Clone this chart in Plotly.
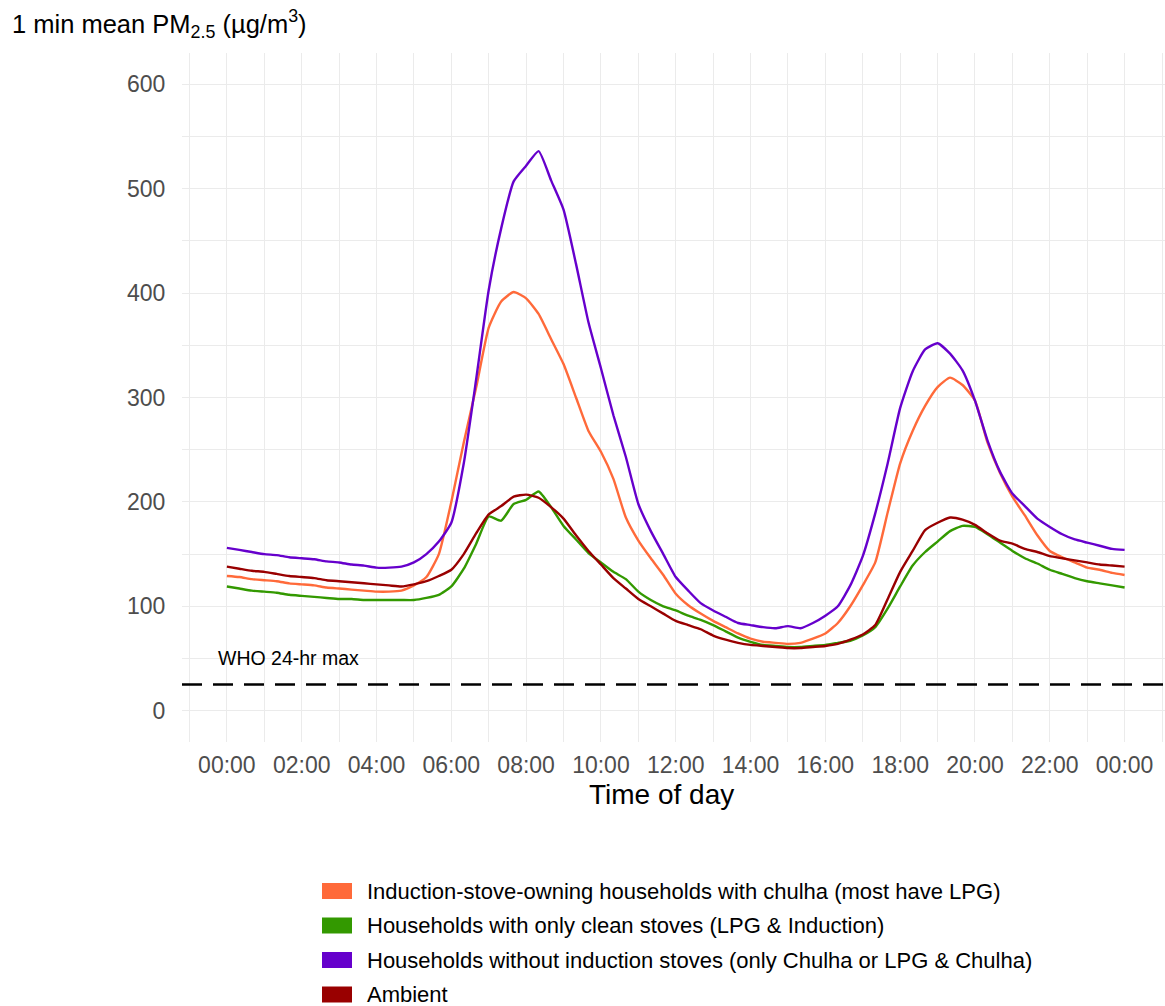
import plotly.graph_objects as go

# Time of day for each reading (24:00 closes the day)
TIMES = [
    "00:00", "00:20", "00:40", "01:00", "01:20", "01:40", "02:00", "02:20", "02:40",
    "03:00", "03:20", "03:40", "04:00", "04:20", "04:40", "05:00", "05:20", "05:40",
    "06:00", "06:20", "06:40", "07:00", "07:20", "07:40", "08:00", "08:20", "08:40",
    "09:00", "09:20", "09:40", "10:00", "10:20", "10:40", "11:00", "11:20", "11:40",
    "12:00", "12:20", "12:40", "13:00", "13:20", "13:40", "14:00", "14:20", "14:40",
    "15:00", "15:20", "15:40", "16:00", "16:20", "16:40", "17:00", "17:20", "17:40",
    "18:00", "18:20", "18:40", "19:00", "19:20", "19:40", "20:00", "20:20", "20:40",
    "21:00", "21:20", "21:40", "22:00", "22:20", "22:40", "23:00", "23:20", "23:40",
    "24:00",
]

# Mean PM2.5 (ug/m3) by household group
INDUCTION_WITH_CHULHA = [
    129, 128, 126, 125, 124, 122, 121, 120, 118, 117, 116, 115,
    114, 114, 115, 120, 128, 150, 200, 257, 310, 367, 392, 401,
    395, 380, 356, 332, 300, 268, 248, 222, 185, 163, 146, 130,
    112, 101, 93, 86, 80, 74, 69, 66, 65, 64, 65, 69,
    74, 84, 100, 120, 142, 190, 237, 268, 292, 310, 319, 312,
    297, 257, 228, 205, 187, 168, 153, 147, 142, 137, 135, 132,
    130,
]
CLEAN_STOVES_ONLY = [
    119, 117, 115, 114, 113, 111, 110, 109, 108, 107, 107, 106,
    106, 106, 106, 106, 108, 111, 119, 136, 160, 186, 182, 198,
    202, 210, 195, 177, 164, 151, 142, 133, 126, 114, 106, 100,
    96, 91, 87, 82, 76, 70, 66, 63, 62, 61, 61, 62,
    63, 65, 67, 72, 80, 98, 119, 139, 152, 162, 172, 177,
    176, 169, 161, 153, 146, 141, 135, 131, 127, 124, 122, 120,
    118,
]
NO_INDUCTION = [
    156, 154, 152, 150, 149, 147, 146, 145, 143, 142, 140, 139,
    137, 137, 138, 142, 150, 162, 180, 237, 318, 403, 462, 507,
    522, 536, 508, 480, 428, 372, 328, 283, 243, 198, 172, 150,
    128, 115, 103, 96, 90, 84, 82, 80, 79, 81, 79, 84,
    91, 100, 120, 148, 189, 237, 290, 325, 346, 352, 342, 326,
    297, 259, 229, 208, 196, 184, 176, 169, 164, 161, 158, 155,
    154,
]
AMBIENT = [
    138, 136, 134, 133, 131, 129, 128, 127, 125, 124, 123, 122,
    121, 120, 119, 121, 124, 129, 135, 150, 170, 188, 196, 205,
    207, 204, 195, 184, 168, 153, 140, 127, 117, 107, 100, 93,
    86, 82, 78, 72, 68, 65, 63, 62, 61, 60, 60, 61,
    62, 64, 68, 73, 82, 107, 133, 153, 173, 180, 185, 183,
    178, 170, 163, 160, 155, 152, 148, 146, 144, 142, 140, 139,
    138,
]

SERIES_NAMES = [
    "Induction-stove-owning households with chulha (most have LPG)",
    "Households with only clean stoves (LPG & Induction)",
    "Households without induction stoves (only Chulha or LPG & Chulha)",
    "Ambient",
]
SERIES_COLORS = ["#FF6A3A", "#339900", "#6600CC", "#990000"]

WHO_24HR_MAX = 25

TICK_HOURS = [0, 2, 4, 6, 8, 10, 12, 14, 16, 18, 20, 22, 24]
TICK_LABELS = ["00:00", "02:00", "04:00", "06:00", "08:00", "10:00", "12:00",
               "14:00", "16:00", "18:00", "20:00", "22:00", "00:00"]


def to_hours(t):
    h, m = t.split(":")
    return int(h) + int(m) / 60.0


hours = [to_hours(t) for t in TIMES]
series = [INDUCTION_WITH_CHULHA, CLEAN_STOVES_ONLY, NO_INDUCTION, AMBIENT]

FONT = "Liberation Sans, Arial, sans-serif"
W, H = 1165, 1006
ML, MR, MT, MB = 182, 0, 53, 264
PW, PH = W - ML - MR, H - MT - MB


def px_x(px):
    """Pixel column -> paper x."""
    return (px - ML) / PW


def px_y(px):
    """Pixel row -> paper y."""
    return (H - MB - px) / PH


fig = go.Figure()

# Concentration curves
for name, color, vals in zip(SERIES_NAMES, SERIES_COLORS, series):
    fig.add_trace(go.Scatter(
        x=hours, y=vals, mode="lines", name=name,
        line=dict(color=color, width=2.4, shape="spline", smoothing=0.5),
        showlegend=False, hoverinfo="x+y",
    ))

# WHO guideline
fig.add_shape(type="line", xref="paper", yref="y", x0=0, x1=1,
              y0=WHO_24HR_MAX, y1=WHO_24HR_MAX,
              line=dict(color="black", width=2.5, dash="20px,11px"))
fig.add_annotation(x=-0.28, y=WHO_24HR_MAX + 25, xref="x", yref="y",
                   text="WHO 24-hr max", showarrow=False, xanchor="left",
                   yanchor="middle", font=dict(family=FONT, size=19.5, color="black"))

# Y axis title placed horizontally above the panel
fig.add_annotation(x=px_x(10), y=px_y(24), xref="paper", yref="paper",
                   text="1 min mean PM<sub>2.5</sub> (\u00b5g/m<sup>3</sup>)",
                   showarrow=False, xanchor="left", yanchor="middle",
                   font=dict(family=FONT, size=25.5, color="black"))

# X axis title
fig.add_annotation(x=px_x(661), y=px_y(794), xref="paper", yref="paper",
                   text="Time of day", showarrow=False,
                   xanchor="center", yanchor="middle",
                   font=dict(family=FONT, size=28, color="black"))

# Legend: filled keys with labels, stacked below the panel
LEGEND_ROWS = [891, 925.5, 960, 994.5]
for name, color, row in zip(SERIES_NAMES, SERIES_COLORS, LEGEND_ROWS):
    fig.add_shape(type="rect", xref="paper", yref="paper",
                  x0=px_x(322), x1=px_x(352), y0=px_y(row + 8), y1=px_y(row - 8),
                  fillcolor=color, line=dict(width=0))
    fig.add_annotation(x=px_x(365), y=px_y(row), xref="paper", yref="paper",
                       text=name, showarrow=False, xanchor="left", yanchor="middle",
                       font=dict(family=FONT, size=22, color="black"))

grid = "#EBEBEB"
fig.update_layout(
    width=W, height=H,
    margin=dict(l=ML, r=MR, t=MT, b=MB, pad=0, autoexpand=False),
    plot_bgcolor="white", paper_bgcolor="white",
    font=dict(family=FONT, color="black"),
    showlegend=False,
    xaxis=dict(
        range=[-1.2, 25.08], tickvals=TICK_HOURS, ticktext=TICK_LABELS,
        showgrid=True, gridcolor=grid, gridwidth=1.3, zeroline=False,
        showline=False, ticks="outside", ticklen=2, tickcolor="rgba(0,0,0,0)",
        tickfont=dict(size=23, color="#4D4D4D"), automargin=False,
        minor=dict(dtick=1, tick0=0, showgrid=True, gridcolor=grid, gridwidth=0.8),
    ),
    yaxis=dict(
        range=[-30, 630], tickvals=[0, 100, 200, 300, 400, 500, 600],
        showgrid=True, gridcolor=grid, gridwidth=1.3, zeroline=False,
        showline=False, ticks="outside", ticklen=11, tickcolor="rgba(0,0,0,0)",
        tickfont=dict(size=23, color="#4D4D4D"), automargin=False,
        minor=dict(dtick=50, tick0=0, showgrid=True, gridcolor=grid, gridwidth=0.8),
    ),
)

fig.write_html("out.html")
